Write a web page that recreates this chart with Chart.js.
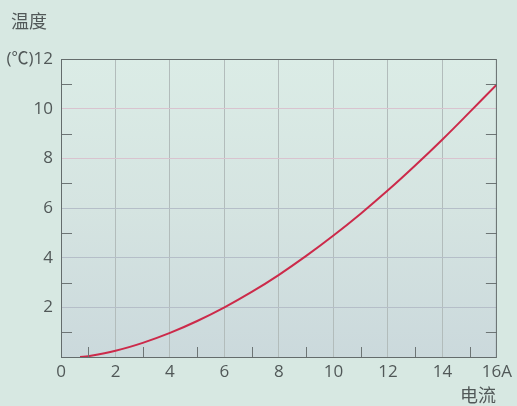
<!DOCTYPE html>
<html lang="zh">
<head>
    <meta charset="UTF-8">
    <title>温度 - 电流</title>
    <script src="https://cdn.jsdelivr.net/npm/chart.js"></script>
    <style>
        html, body { margin: 0; padding: 0; background: #d7e8e2; }
        #wrap { width: 517px; height: 406px; }
    </style>
</head>
<body>
    <div id="wrap"><canvas id="tempChart"></canvas></div>

    <script>
        // current (A) and temperature rise (°C)
        const currentA = [0.7, 1, 2, 3, 4, 5, 6, 7, 8, 9, 10, 11, 12, 13, 14, 15, 16];
        const tempC = [0, 0.03, 0.25, 0.57, 0.97, 1.45, 2.0, 2.62, 3.31, 4.07, 4.89, 5.77, 6.71, 7.71, 8.76, 9.86, 10.98];

        const xTicks = [0, 2, 4, 6, 8, 10, 12, 14, 16];
        const yTicks = [0, 2, 4, 6, 8, 10, 12];
        const xMinor = [1, 3, 5, 7, 9, 11, 13, 15];
        const yMinor = [1, 3, 5, 7, 9, 11];

        const yTitle = '温度';
        const xTitle = '电流';

        const labelFont = "'Open Sans', 'Noto Sans CJK SC', sans-serif";
        const textColor = '#515858';

        const decorPlugin = {
            id: 'decor',
            beforeDraw(chart) {
                const { ctx, chartArea: a } = chart;
                const g = ctx.createLinearGradient(0, a.top, 0, a.bottom);
                g.addColorStop(0, '#dbece6');
                g.addColorStop(0.5, '#d5e4e1');
                g.addColorStop(1, '#cbd9dc');
                ctx.save();
                ctx.fillStyle = g;
                ctx.fillRect(a.left, a.top, a.right - a.left, a.bottom - a.top);
                ctx.restore();
            },
            afterDatasetsDraw(chart) {
                const { ctx, chartArea: a, scales } = chart;
                ctx.save();
                ctx.strokeStyle = '#6d7575';
                ctx.lineWidth = 1;
                ctx.beginPath();
                // minor ticks on left and right frame
                yMinor.forEach(v => {
                    const y = Math.round(scales.y.getPixelForValue(v)) + 0.5;
                    ctx.moveTo(a.left, y); ctx.lineTo(a.left + 11, y);
                    ctx.moveTo(a.right, y); ctx.lineTo(a.right - 11, y);
                });
                // minor ticks on bottom
                xMinor.forEach(v => {
                    const x = Math.round(scales.x.getPixelForValue(v)) + 0.5;
                    ctx.moveTo(x, a.bottom); ctx.lineTo(x, a.bottom - 10);
                });
                ctx.stroke();

                // frame
                ctx.strokeStyle = '#646c6c';
                ctx.strokeRect(a.left + 0.5, a.top + 0.5, a.right - a.left - 1, a.bottom - a.top);

                ctx.fillStyle = textColor;
                ctx.font = "18px 'Noto Sans CJK SC', sans-serif";
                ctx.textBaseline = 'middle';
                ctx.textAlign = 'left';
                ctx.fillText(yTitle, 11, 21);
                ctx.textAlign = 'right';
                ctx.fillText(xTitle, a.right - 1, 395);
                ctx.restore();
            }
        };

        const ctx = document.getElementById('tempChart').getContext('2d');
        new Chart(ctx, {
            type: 'line',
            data: {
                datasets: [{
                    data: currentA.map((x, i) => ({ x: x, y: tempC[i] })),
                    borderColor: '#cc2a4a',
                    borderWidth: 2,
                    pointRadius: 0,
                    tension: 0.4,
                    fill: false
                }]
            },
            options: {
                responsive: true,
                maintainAspectRatio: false,
                animation: false,
                layout: { padding: { left: 0, top: 59, right: 15, bottom: 0 } },
                plugins: {
                    legend: { display: false },
                    tooltip: { enabled: false }
                },
                scales: {
                    x: {
                        type: 'linear',
                        min: 0,
                        max: 16,
                        afterFit: s => { s.height = 49; },
                        afterBuildTicks: s => { s.ticks = xTicks.map(v => ({ value: v })); },
                        border: { display: false },
                        grid: {
                            drawTicks: false,
                            color: c => (c.tick.value === 0 || c.tick.value === 16) ? 'rgba(0,0,0,0)' : '#b2bcbb',
                            lineWidth: 1
                        },
                        ticks: {
                            padding: 5,
                            color: textColor,
                            font: { family: labelFont, size: 17 },
                            callback: v => v === 16 ? '16A' : String(v)
                        }
                    },
                    y: {
                        min: 0,
                        max: 12,
                        afterFit: s => { s.width = 61; },
                        afterBuildTicks: s => { s.ticks = yTicks.map(v => ({ value: v })); },
                        border: { display: false },
                        grid: {
                            drawTicks: false,
                            color: c => {
                                const v = c.tick.value;
                                if (v === 0 || v === 12) return 'rgba(0,0,0,0)';
                                return v >= 8 ? '#d9c3cf' : '#b5bec8';
                            },
                            lineWidth: 1
                        },
                        ticks: {
                            padding: 8,
                            color: textColor,
                            font: { family: labelFont, size: 17 },
                            callback: v => v === 12 ? '(℃)12' : (v === 0 ? '' : String(v))
                        }
                    }
                }
            },
            plugins: [decorPlugin]
        });
    </script>
</body>
</html>
